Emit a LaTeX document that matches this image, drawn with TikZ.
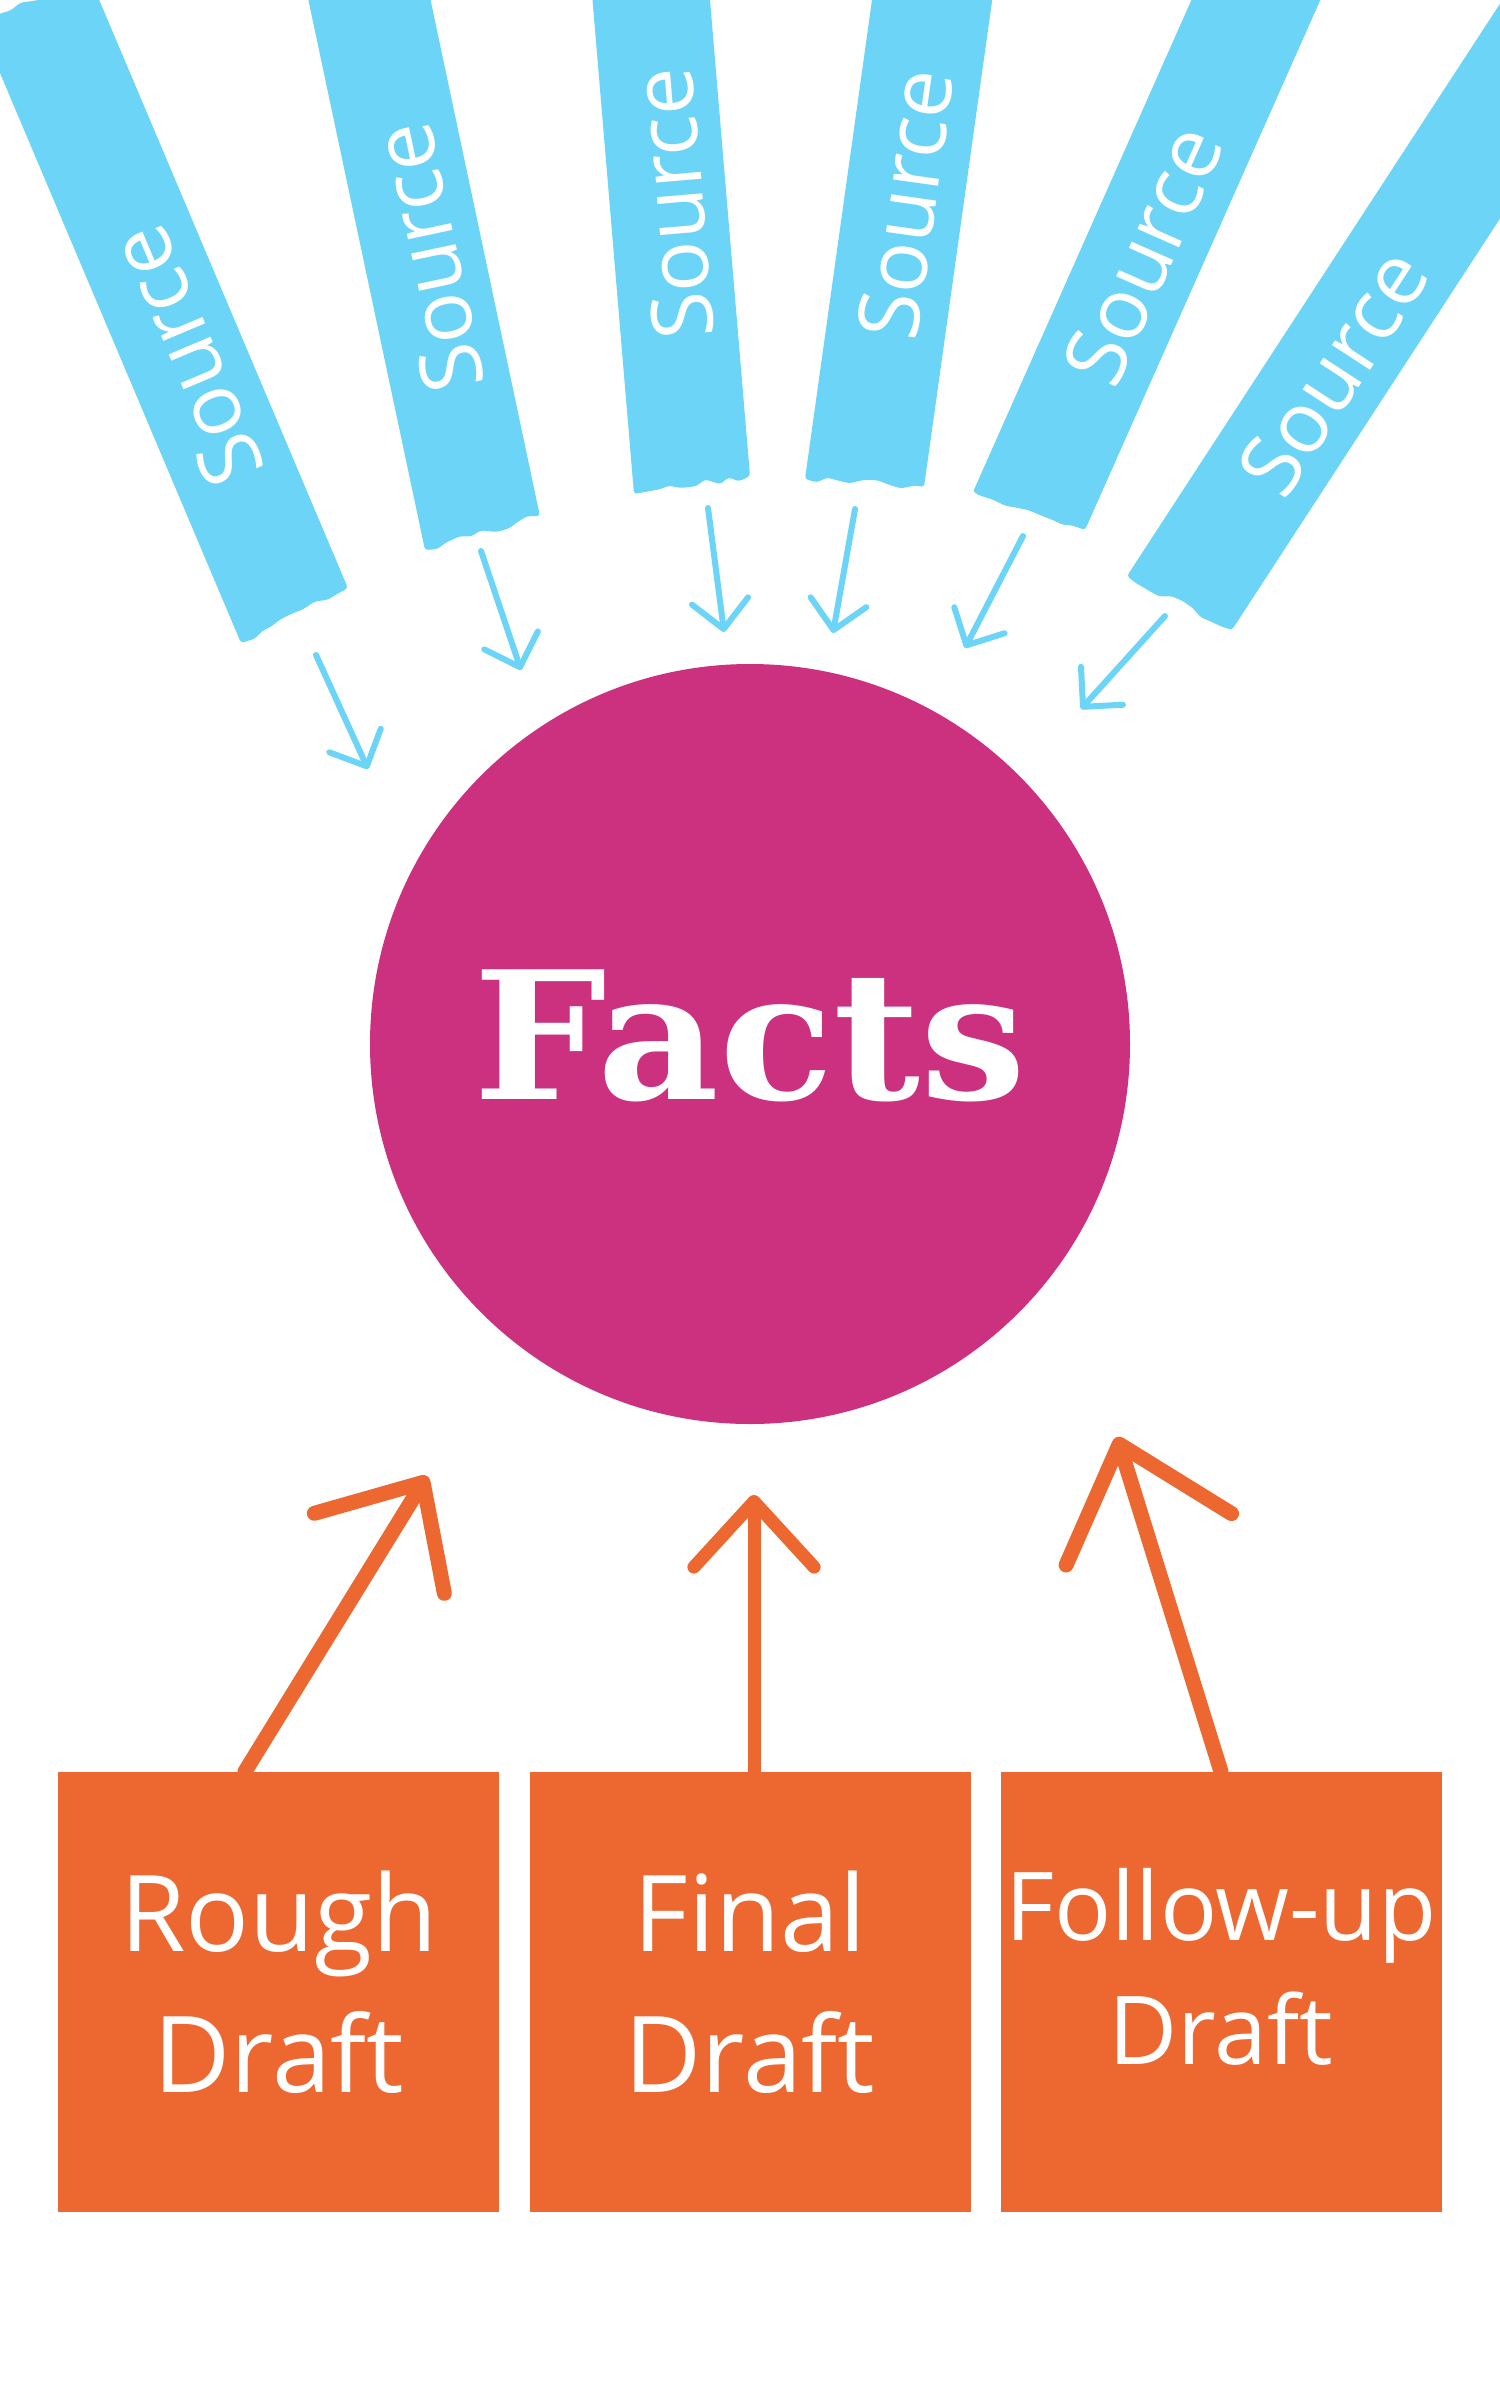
\documentclass[tikz,border=0pt]{standalone}
\usepackage{fontspec}
\usetikzlibrary{arrows.meta,calc,decorations.pathmorphing}
\newfontfamily\opensans{Open Sans}
\newfontfamily\factsfont{DejaVu Serif}
\definecolor{srcblue}{RGB}{108,212,246}
\definecolor{factmag}{RGB}{204,49,128}
\definecolor{draftorange}{RGB}{236,104,48}
\begin{document}
\begin{tikzpicture}[x=0.5pt,y=-0.5pt,
  stripfill/.style={fill=srcblue,rounded corners=1.5pt},
  torn/.style={decoration={random steps,segment length=6pt,amplitude=1.8pt}},
  srctext/.style={text=white,inner sep=0pt,font=\opensans\fontsize{42.5pt}{51pt}\selectfont},
  feed/.style={draw=srcblue,line width=3pt,line cap=round,-{Straight Barb[angle=90:20pt,round]}},
  draftbox/.style={rectangle,fill=draftorange,minimum width=220.5pt,minimum height=220pt,inner sep=0pt},
  drafttext/.style={text=white,align=center,inner sep=0pt,font=\opensans\fontsize{53pt}{70.5pt}\selectfont},
  revise/.style={draw=draftorange,line width=7.5pt,line cap=round,line join=round}
]
\pgfmathsetseed{7}
\useasboundingbox (0,0) rectangle (1500,2400);
\fill[white] (0,0) rectangle (1500,2400);
\clip (0,0) rectangle (1500,2400);

% source strips
\fill[stripfill] (88.8,-24.7) decorate[torn]{-- (-21.7,22)} -- (241,643) decorate[torn]{-- (348,588)} -- cycle;
\fill[stripfill] (297.8,-50) -- (425,550) decorate[torn]{-- (540,516)} -- (420,-50) -- cycle;
\fill[stripfill] (588.3,-50) -- (634,494) decorate[torn]{-- (750,476)} -- (705.8,-50) -- cycle;
\fill[stripfill] (879,-50) -- (805,479) decorate[torn]{-- (924,487)} -- (999.2,-50) -- cycle;
\fill[stripfill] (1213.6,-50) -- (973,492) decorate[torn]{-- (1085,530)} -- (1342.5,-50) -- cycle;
\fill[stripfill] (1535,-50) -- (1127,576) decorate[torn]{-- (1232,630)} -- (1675,-50) -- cycle;

\node[srctext,rotate=112.9] (s1) at (186,356) {Source};
\node[srctext,rotate=102] (s2) at (428,258) {Source};
\node[srctext,rotate=94.8] (s3) at (673,204) {Source};
\node[srctext,rotate=82] (s4) at (905.5,204) {Source};
\node[srctext,rotate=66.1] (s5) at (1143,255) {Source};
\node[srctext,rotate=56.9] (s6) at (1333,372) {Source};

% feed arrows
\coordinate (f1a) at (316,655); \coordinate (f1b) at (368,769);
\coordinate (f2a) at (481,551); \coordinate (f2b) at (521,670);
\coordinate (f3a) at (708,508); \coordinate (f3b) at (724,632);
\coordinate (f4a) at (855,509); \coordinate (f4b) at (833,633);
\coordinate (f5a) at (1023,536); \coordinate (f5b) at (965,648);
\coordinate (f6a) at (1165,616); \coordinate (f6b) at (1081,709);
\foreach \i in {1,...,6} { \draw[feed] (f\i a) -- (f\i b); }

% facts circle
\node[circle,fill=factmag,minimum size=380pt,inner sep=0pt,text=white,
  font=\factsfont\bfseries\fontsize{89pt}{100pt}\selectfont,text depth=9pt] (facts) at (750,1044) {\scalebox{1.057}[1]{Facts}};

% draft boxes
\node[draftbox] (b1) at (278.5,1992) {};
\node[draftbox] (b2) at (750,1992) {};
\node[draftbox] (b3) at (1221,1992) {};
\node[drafttext,anchor=base] (t1) at (279,2092) {Rough\\Draft};
\node[drafttext,anchor=base] (t2) at (750,2092) {Final\\Draft};
\node[drafttext,anchor=base,font=\opensans\fontsize{47.5pt}{62pt}\selectfont] (t3) at (1221,2064) {Follow-up\\Draft};

% revision arrows
\coordinate (r1) at (427,1476);
\coordinate (r2) at (754,1495);
\coordinate (r3) at (1117,1437);
\draw[revise,-{Straight Barb[angle=85:56.5pt,round]}] ($(b1.north west)!0.424!(b1.north east)$) -- (r1);
\draw[revise,line width=6.5pt,-{Straight Barb[angle=85:44.5pt,round]}] ($(b2.north)+(4,0)$) -- (r2);
\draw[revise,-{Straight Barb[angle=82:66pt,round]}] (b3.north) -- (r3);
\end{tikzpicture}
\end{document}
